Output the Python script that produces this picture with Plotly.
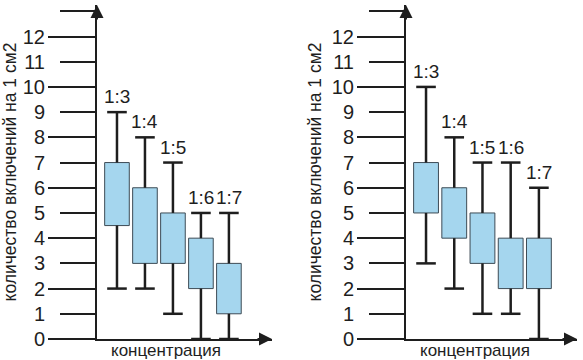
import plotly.graph_objects as go

categories = ["1:3", "1:4", "1:5", "1:6", "1:7"]
# left panel
left_low = [2, 2, 1, 0, 0]
left_q1 = [4.5, 3, 3, 2, 1]
left_q3 = [7, 6, 5, 4, 3]
left_high = [9, 8, 7, 5, 5]
# right panel
right_low = [3, 2, 1, 1, 0]
right_q1 = [5, 4, 3, 2, 2]
right_q3 = [7, 6, 5, 4, 4]
right_high = [10, 8, 7, 7, 6]

y_title = "количество включений на 1 см2"
x_title = "концентрация"
ytick_vals = list(range(0, 13))

W, H = 583, 360
FILL = "#a5d6ee"
EDGE = "#3d4b55"
INK = "#1e1e1e"
FONT = "Liberation Sans, Arial, sans-serif"

fig = go.Figure()

panels = [
    dict(low=left_low, q1=left_q1, q3=left_q3, high=left_high,
         xa="x", ya="y", xr=[0.286, 6.54]),
    dict(low=right_low, q1=right_q1, q3=right_q3, high=right_high,
         xa="x2", ya="y3", xr=[0.29, 6.35]),
]

pos = list(range(1, len(categories) + 1))

for p in panels:
    fig.add_trace(go.Bar(
        x=pos, y=[b - a for a, b in zip(p["q1"], p["q3"])], base=p["q1"],
        width=0.88, marker=dict(color=FILL, line=dict(color=EDGE, width=1)),
        xaxis=p["xa"], yaxis=p["ya"], showlegend=False, hoverinfo="skip"))
    wx, wy = [], []
    for x, lo, a, b, hi in zip(pos, p["low"], p["q1"], p["q3"], p["high"]):
        wx += [x, x, None, x, x, None]
        wy += [b, hi, None, a, lo, None]
    fig.add_trace(go.Scatter(
        x=wx, y=wy, mode="lines", line=dict(color=INK, width=2.5),
        xaxis=p["xa"], yaxis=p["ya"], showlegend=False, hoverinfo="skip",
        cliponaxis=False))
    fig.add_trace(go.Scatter(
        x=pos + pos, y=p["high"] + p["low"], mode="markers",
        marker=dict(symbol="line-ew", size=14, line=dict(color=INK, width=2.5)),
        xaxis=p["xa"], yaxis=p["ya"], showlegend=False, hoverinfo="skip",
        cliponaxis=False))
    for x, hi, c in zip(pos, p["high"], categories):
        fig.add_annotation(x=x, y=hi, xref=p["xa"], yref=p["ya"], text=c,
                           showarrow=False, yanchor="bottom", yshift=3,
                           font=dict(size=19, color=INK, family=FONT))

ydom = [(H - 339) / H, (H - 5) / H]
yr = [0, 13.25]

def yax_common():
    return dict(range=yr, domain=ydom, showgrid=False, zeroline=False,
                fixedrange=True, automargin=False)

def xax(dom, rng, anchor):
    return dict(domain=dom, range=rng, anchor=anchor, showline=True,
                linecolor=INK, linewidth=2, showticklabels=False, ticks="",
                showgrid=False, zeroline=False, fixedrange=True,
                automargin=False)

def tick_axis(anchor):
    return dict(**yax_common(), anchor=anchor, showline=True, linecolor=INK,
                linewidth=2, tickmode="linear", tick0=0, dtick=2,
                ticks="outside", ticklen=47, tickwidth=2, tickcolor=INK,
                showticklabels=False,
                minor=dict(tickmode="linear", tick0=1, dtick=2,
                           ticks="outside", ticklen=35, tickwidth=2,
                           tickcolor=INK))

def label_axis(anchor, over):
    return dict(**yax_common(), anchor=anchor, overlaying=over,
                tickmode="array", tickvals=ytick_vals,
                ticktext=[str(v) for v in ytick_vals],
                ticks="outside", ticklen=47, tickcolor="rgba(0,0,0,0)",
                tickfont=dict(size=20, color=INK, family=FONT),
                title=dict(text=y_title, standoff=5,
                           font=dict(size=17.5, color=INK, family=FONT)))

fig.update_layout(
    width=W, height=H,
    margin=dict(l=0, r=0, t=0, b=0, autoexpand=False),
    paper_bgcolor="white", plot_bgcolor="white",
    font=dict(family=FONT, color=INK),
    xaxis=xax([97 / W, 272 / W], panels[0]["xr"], "y"),
    xaxis2=xax([406 / W, 577 / W], panels[1]["xr"], "y3"),
    yaxis=tick_axis("x"),
    yaxis2=label_axis("x", "y"),
    yaxis3=tick_axis("x2"),
    yaxis4=label_axis("x2", "y3"),
)

# invisible traces so label axes render
fig.add_trace(go.Scatter(x=[None], y=[None], xaxis="x", yaxis="y2",
                         showlegend=False, hoverinfo="skip"))
fig.add_trace(go.Scatter(x=[None], y=[None], xaxis="x2", yaxis="y4",
                         showlegend=False, hoverinfo="skip"))

# axis arrows
for xa, ya in [("x", "y"), ("x2", "y3")]:
    fig.add_annotation(x=0, y=1, xref=f"{xa} domain", yref=f"{ya} domain",
                       ax=0, ay=16, axref="pixel", ayref="pixel", text="",
                       showarrow=True, arrowhead=2, arrowsize=1.3,
                       arrowwidth=2, arrowcolor=INK)
    fig.add_annotation(x=1, y=0, xref=f"{xa} domain", yref=f"{ya} domain",
                       ax=-16, ay=0, axref="pixel", ayref="pixel", text="",
                       showarrow=True, arrowhead=2, arrowsize=1.3,
                       arrowwidth=2, arrowcolor=INK)

# x titles
for cx in (166, 475):
    fig.add_annotation(x=cx / W, y=(H - 350) / H, xref="paper", yref="paper",
                       text=x_title, showarrow=False, xanchor="center",
                       yanchor="middle",
                       font=dict(size=17, color=INK, family=FONT))

fig.write_html(
    "out.html",
    config={"displayModeBar": False, "staticPlot": True},
    post_script="document.body.style.margin='0';document.body.style.overflow='hidden';",
)
